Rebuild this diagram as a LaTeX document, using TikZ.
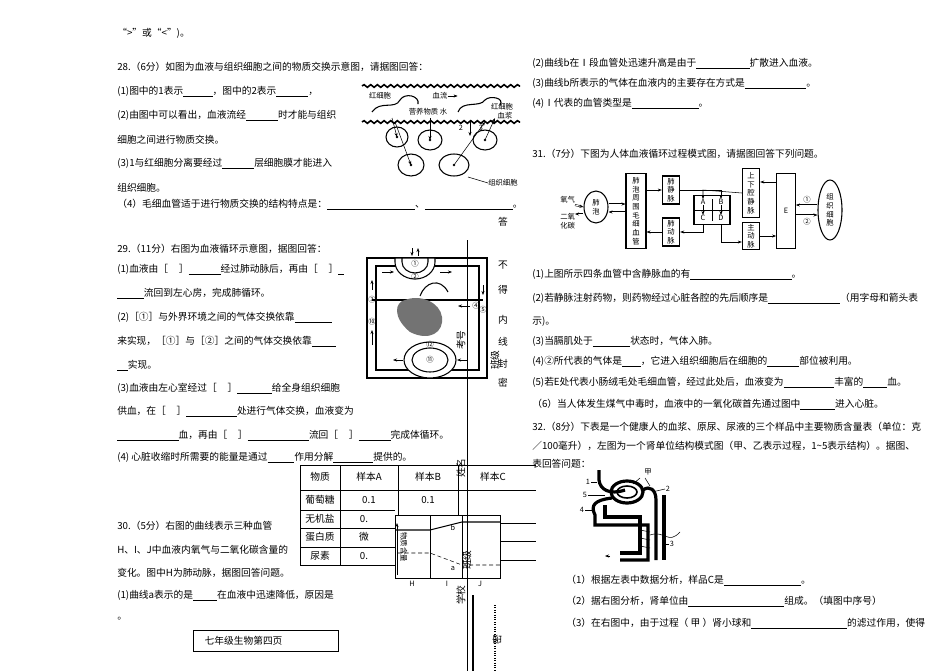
\documentclass[tikz,border=0pt]{standalone}
\usepackage{fontspec}
\setmainfont{Noto Sans CJK SC}
\usetikzlibrary{arrows.meta,decorations.pathmorphing,shapes.geometric}
\begin{document}
\begin{tikzpicture}[x=0.75pt,y=-0.75pt,
  every node/.style={font=\fontsize{7.3}{9}\selectfont,inner sep=0pt},
  tx/.style={anchor=west},
  bx/.style={draw,thick,inner sep=0pt},
  ar/.style={-{Stealth[length=3pt]}},
  sm/.style={font=\fontsize{5.5}{6.5}\selectfont}]
\useasboundingbox (0,0) rectangle (950,671);
\fill[white] (0,0) rectangle (950,671);
% ---------- left column text
\node[tx] (t0) at (117,33) {“>”或“<”)。};
\node[tx] (t1) at (117,67) {28.（6分）如图为血液与组织细胞之间的物质交换示意图，请据图回答：};
\node[tx] (t2) at (117,92) {(1)图中的1表示\underline{\hspace{22pt}}，图中的2表示\underline{\hspace{24pt}}，};
\node[tx] (t3) at (117,116) {(2)由图中可以看出，血液流经\underline{\hspace{24pt}}时才能与组织};
\node[tx] (t4) at (117,140) {细胞之间进行物质交换。};
\node[tx] (t5) at (117,164) {(3)1与红细胞分离要经过\underline{\hspace{24pt}}层细胞膜才能进入};
\node[tx] (t6) at (117,188) {组织细胞。};
\node[tx] (t7) at (117,205) {（4）毛细血管适于进行物质交换的结构特点是：\underline{\hspace{66pt}}、\underline{\hspace{66pt}}。};
\node[tx] (u1) at (117,249) {29.（11分）右图为血液循环示意图，据图回答：};
\node[tx] (u2) at (117,270) {(1)血液由［\hspace{8pt}］\underline{\hspace{24pt}}经过肺动脉后，再由［\hspace{8pt}］\underline{\hspace{4pt}}};
\node[tx] (u3) at (117,294) {\underline{\hspace{20pt}}流回到左心房，完成肺循环。};
\node[tx] (u4) at (117,318) {(2)［①］与外界环境之间的气体交换依靠\underline{\hspace{28pt}}};
\node[tx] (u5) at (117,342) {来实现，［①］与［②］之间的气体交换依靠\underline{\hspace{18pt}}};
\node[tx] (u6) at (117,366) {\underline{\hspace{8pt}}实现。};
\node[tx] (u7) at (117,389) {(3)血液由左心室经过［\hspace{8pt}］\underline{\hspace{26pt}}给全身组织细胞};
\node[tx] (u8) at (117,412) {供血，在［\hspace{8pt}］\underline{\hspace{38pt}}处进行气体交换，血液变为};
\node[tx] (u9) at (117,436) {\underline{\hspace{46pt}}血，再由［\hspace{8pt}］\underline{\hspace{46pt}}流回［\hspace{8pt}］\underline{\hspace{24pt}}完成体循环。};
\node[tx] (u10) at (117,458) {(4) 心脏收缩时所需要的能量是通过\underline{\hspace{20pt}}作用分解\underline{\hspace{30pt}}提供的。};
\node[tx] (v1) at (117,526) {30.（5分）右图的曲线表示三种血管};
\node[tx] (v2) at (117,550) {H、I、J中血液内氧气与二氧化碳含量的};
\node[tx] (v3) at (117,573) {变化。图中H为肺动脉，据图回答问题。};
\node[tx] (v4) at (117,596) {(1)曲线a表示的是\underline{\hspace{18pt}}在血液中迅速降低，原因是};
\node[tx] (v5) at (117,619) {。};
\node[draw,minimum width=109pt,minimum height=16pt,anchor=north west,text width=100pt,align=left] (pg) at (193,630) {\hspace{4pt}七年级生物第四页};
% ---------- right column text
\node[tx] (r1) at (532,64) {(2)曲线b在Ⅰ段血管处迅速升高是由于\underline{\hspace{40pt}}扩散进入血液。};
\node[tx] (r2) at (532,84) {(3)曲线b所表示的气体在血液内的主要存在方式是\underline{\hspace{46pt}}。};
\node[tx] (r3) at (532,104) {(4)Ⅰ代表的血管类型是\underline{\hspace{50pt}}。};
\node[tx] (r4) at (532,154) {31.（7分）下图为人体血液循环过程模式图，请据图回答下列问题。};
\node[tx] (s1) at (532,275) {(1)上图所示四条血管中含静脉血的有\underline{\hspace{76pt}}。};
\node[tx] (s2) at (532,299) {(2)若静脉注射药物，则药物经过心脏各腔的先后顺序是\underline{\hspace{54pt}}（用字母和箭头表};
\node[tx] (s3) at (532,321) {示)。};
\node[tx] (s4) at (532,342) {(3)当膈肌处于\underline{\hspace{28pt}}状态时，气体入肺。};
\node[tx] (s5) at (532,362) {(4)②所代表的气体是\underline{\hspace{14pt}}，它进入组织细胞后在细胞的\underline{\hspace{24pt}}部位被利用。};
\node[tx] (s6) at (532,383) {(5)若E处代表小肠绒毛处毛细血管，经过此处后，血液变为\underline{\hspace{38pt}}丰富的\underline{\hspace{18pt}}血。};
\node[tx] (s7) at (532,405) {（6）当人体发生煤气中毒时，血液中的一氧化碳首先通过图中\underline{\hspace{26pt}}进入心脏。};
\node[tx] (s8) at (532,427) {32.（8分）下表是一个健康人的血浆、原尿、尿液的三个样品中主要物质含量表（单位：克};
\node[tx] (s9) at (532,446) {／100毫升），左图为一个肾单位结构模式图（甲、乙表示过程，1\textasciitilde5表示结构）。据图、};
\node[tx] (s10) at (532,464) {表回答问题：};
\node[tx] (k1) at (566,581) {（1）根据左表中数据分析，样品C是\underline{\hspace{58pt}}。};
\node[tx] (k2) at (566,602) {（2）据右图分析，肾单位由\underline{\hspace{72pt}}组成。（填图中序号）};
\node[tx] (k3) at (566,624) {（3）在右图中，由于过程（ 甲 ）肾小球和\underline{\hspace{72pt}}的滤过作用，使得};
% ---------- Q28 diagram
\draw[very thick,decorate,decoration={snake,amplitude=1pt,segment length=5pt}] (362,86) -- (520,86);
\draw[very thick,decorate,decoration={snake,amplitude=1pt,segment length=5pt}] (362,122) -- (520,122);
\draw[thick] (372,112) .. controls (380,100) and (395,110) .. (400,100) .. controls (405,92) and (420,96) .. (418,104);
\draw[thick] (458,112) .. controls (462,100) and (480,108) .. (485,100) .. controls (490,95) and (505,98) .. (500,105);
\node[sm] (l28a) at (380,96) {红细胞};
\node[sm] (l28b) at (440,96) {血流};
\draw[ar] (l28b.east) -- ++(10,0);
\node[sm] (l28c) at (428,112) {营养物质 水};
\node[sm] (l28d) at (502,107) {红细胞};
\node[sm] (l28e) at (505,116) {血浆};
\foreach \n/\x/\y/\a/\b in {c1/397/137/11/10,c2/430/140/12/10,c3/485/140/12/10,c4/411/165/13/11,c5/454/165/15/11} {
  \draw[thick] (\x,\y) ellipse ({\a} and {\b});
  \fill (\x,\y) circle (1.3);
  \coordinate (\n) at (\x,\y);}
\draw[ar] (392,118) -- (c1);
\draw[ar] (395,122) -- (c4);
\draw[ar] (430,118) -- (c2);
\draw[ar] (470,121) -- (470,136);
\draw[ar] (c5) -- (485,122);
\draw[ar] (c3) -- (495,118);
\draw (468,177) -- (488,183);
\node[sm,anchor=west] (l28f) at (488,183) {组织细胞};
\node[sm] (n2) at (461,128) {2};
\node[sm] (n3) at (481,128) {3};
% ---------- Q29 diagram
\draw[thick] (367,258) rectangle (487,378);
\draw[thick] (376,266) rectangle (479,370);
\draw[thick] (372,300) -- (483,300);
\draw[thick,fill=white] (395,258) -- (395,262) arc (180:0:20 and 17) -- (435,258) -- cycle;
\draw[thick,fill=white] (402,258) -- (402,262) arc (180:0:13 and 11) -- (428,258) -- cycle;
\draw[ar] (412,248) -- (412,256); \draw[ar] (418,256) -- (418,248);
\node[sm] (lung) at (415,264) {①};
\node[sm] (n2b) at (415,277) {②};
\draw[thick,fill=white] (430,360) ellipse (26 and 18);
\draw[thick] (430,360) ellipse (18 and 12);
\node[sm] (body) at (430,360) {⑪};
\node[sm] (n12) at (430,345) {⑫};
\fill[black!55] (410,332) .. controls (392,317) and (395,302) .. (405,300) .. controls (420,294) and (440,302) .. (442,317) .. controls (444,332) and (430,342) .. (410,332) -- cycle;
\draw[thick] (420,296) .. controls (425,282) and (440,277) .. (448,292);
\draw[ar] (382,272) -- (394,272);
\draw[ar] (440,272) -- (452,272);
\draw[ar] (403,360) -- (393,360);
\draw[ar] (467,360) -- (457,360);
\draw[ar] (372,290) -- (372,280);
\draw[ar] (372,345) -- (372,330);
\draw[ar] (470,306) -- (458,306);
\draw[ar] (483,285) -- (483,295);
\node[sm] (n3b) at (372,300) {③};
\node[sm] (n4) at (476,306) {④};
\node[sm] (n5) at (483,310) {⑤};
\node[sm] (n10) at (372,322) {⑩};
% ---------- table
\foreach \y in {465,490,510,528,547,565} \draw (300,\y) -- (395,\y);
\draw (395,465) -- (536,465); \draw (395,490) -- (536,490);
\draw (500,523) -- (536,523); \draw (500,541) -- (536,541); \draw (500,560) -- (536,560);
\foreach \x in {300,340} \draw (\x,465) -- (\x,565);
\draw (398,465) -- (398,515); \draw (458,465) -- (458,515);
\node (th1) at (320,477) {物质}; \node (th2) at (369,477) {样本A}; \node (th3) at (428,477) {样本B}; \node (th4) at (493,477) {样本C};
\node (tr1) at (320,500) {葡萄糖}; \node (tr2) at (369,500) {0.1}; \node (tr3) at (428,500) {0.1};
\node (tr4) at (320,519) {无机盐}; \node (tr5) at (364,519) {0.};
\node (tr6) at (320,537) {蛋白质}; \node (tr7) at (364,537) {微};
\node (tr8) at (320,556) {尿素}; \node (tr9) at (364,556) {0.};
% ---------- Q30 graph
\draw[fill=white] (395,515) rectangle (500,578);
\draw (430,515) -- (430,578); \draw (462,515) -- (462,578);
\draw[ar] (397,575) -- (397,523);
\node[sm,rotate=-90] (ylab) at (404,547) {物质含量};
\draw[thick] (395,530) -- (430,530) -- (462,522) -- (500,522);
\draw[densely dashed] (398,553) -- (430,553) -- (462,565) -- (500,565);
\node[sm] (lb) at (453,528) {b}; \node[sm] (la) at (453,568) {a};
\node[sm] (gH) at (412,584) {H}; \node[sm] (gI) at (447,584) {I}; \node[sm] (gJ) at (480,584) {J};
% ---------- binding line
\draw (467,240) -- (467,671);
\draw[line width=1.2pt] (473,595) -- (473,671);
\draw[densely dotted,thick] (495,605) -- (495,671);
\node[rotate=90] (kh) at (461,340) {考号};
\node[rotate=90] (xm) at (461,468) {姓名};
\node[rotate=90] (xx) at (461,595) {学校};
\node[rotate=90] (zy) at (467,560) {班级};
\node[rotate=90] (ms) at (497,640) {密};
\node[rotate=90] (bj) at (495,360) {班级};
\foreach \t/\y in {答/222,不/265,得/290,内/320,线/342,封/364,密/383} \node (bl\y) at (503,\y) {\t};
% ---------- Q31 diagram
\node[sm,anchor=west] (o2) at (560,200) {氧气};
\node[sm,anchor=west,align=left] (co2) at (560,221) {二氧\\化碳};
\node[draw,thick,ellipse,minimum width=18pt,minimum height=24pt,align=center,sm] (fp) at (596,207) {肺\\泡};
\node[bx,minimum width=15pt,minimum height=56pt,sm,align=center] (mx) at (636,211) {肺\\泡\\周\\围\\毛\\细\\血\\管};
\node[bx,minimum width=13pt,minimum height=21pt,sm,align=center] (fj) at (671,190) {肺\\静\\脉};
\node[bx,minimum width=13pt,minimum height=21pt,sm,align=center] (fd) at (671,232) {肺\\动\\脉};
\node[bx,minimum width=27pt,minimum height=22pt] (hr) at (712,210) {};
\draw (694,210) -- (730,210); \draw (712,199) -- (712,221);
\node[sm] (hA) at (703,202) {A}; \node[sm] (hB) at (721,202) {B};
\node[sm] (hC) at (703,218) {C}; \node[sm] (hD) at (721,218) {D};
\node[bx,minimum width=13pt,minimum height=37pt,sm,align=center] (qj) at (751,193) {上\\下\\腔\\静\\脉};
\node[bx,minimum width=13pt,minimum height=20pt,sm,align=center] (zd) at (751,236) {主\\动\\脉};
\node[bx,minimum width=14pt,minimum height=56pt,sm] (E) at (786,211) {E};
\node[draw,thick,ellipse,minimum width=18pt,minimum height=45pt,sm,align=center] (zz) at (830,210) {组\\织\\细\\胞};
\draw[ar,double] (575,205) -- (fp.west);
\draw[ar,double] (fp.west |- 0,214) -- (575,214);
\draw[ar,double] (fp.east |- 0,204) -- (mx.west |- 0,204);
\draw[ar,double] (mx.west |- 0,212) -- (fp.east |- 0,212);
\draw[ar] (mx.east |- fj) -- (fj.west);
\draw[ar] (fd.west) -- (mx.east |- fd);
\draw[ar] (fj.east) -- (721,190) -- (hB.north);
\draw[ar] (qj.west) -- (703,190) -- (hA.north);
\draw[ar] (hA.south) -- (hC.north); \draw[ar] (hB.south) -- (hD.north);
\draw[ar] (hC.south |- hr.south) -- (703,232) -- (fd.east);
\draw[ar] (hD.south |- hr.south) -- (721,242) -- (zd.west |- 0,242);
\draw[ar] (zd.east) -- (E.west |- zd);
\draw[ar] (E.west |- 0,182) -- (qj.east |- 0,182);
\draw[ar,double] (zz.west |- 0,205) -- (E.east |- 0,205);
\draw[ar,double] (E.east |- 0,215) -- (zz.west |- 0,215);
\node[sm] (c1n) at (807,200) {①}; \node[sm] (c2n) at (807,222) {②};
% ---------- kidney diagram
\begin{scope}[line width=2.4pt]
\draw (599,470) -- (599,480) .. controls (600,490) and (610,495) .. (625,490);
\draw (627,492) ellipse (16 and 11);
\draw[line width=1.2pt] (627,492) ellipse (10 and 6);
\draw (643,490) .. controls (650,485) and (656,490) .. (656,500) -- (656,560);
\draw (664,495) -- (664,560);
\draw (612,498) .. controls (595,500) and (590,505) .. (595,515) -- (595,525) -- (648,525) -- (648,560) -- (620,560);
\draw (605,505) -- (605,517) -- (640,517) -- (640,553) -- (620,553);
\end{scope}
\draw (640,530) -- (650,532) (640,538) -- (650,540) (640,546) -- (650,548);
\draw (650,535) .. controls (665,530) and (668,545) .. (680,532);
\node[sm] (kj) at (648,472) {甲}; \draw (640,478) -- (633,484) (645,478) -- (650,486);
\node[sm] (k1n) at (588,482) {1}; \draw (591,482) -- (597,482);
\node[sm] (k5n) at (585,495) {5}; \draw (588,495) -- (605,495);
\node[sm] (k4n) at (582,510) {4}; \draw (585,510) -- (593,510);
\node[sm] (k2n) at (668,489) {2}; \draw (665,489) -- (652,492);
\node[sm] (k3n) at (672,544) {3}; \draw (669,544) -- (665,544);
\draw[ar] (610,556) -- (605,556);
\end{tikzpicture}
\end{document}
